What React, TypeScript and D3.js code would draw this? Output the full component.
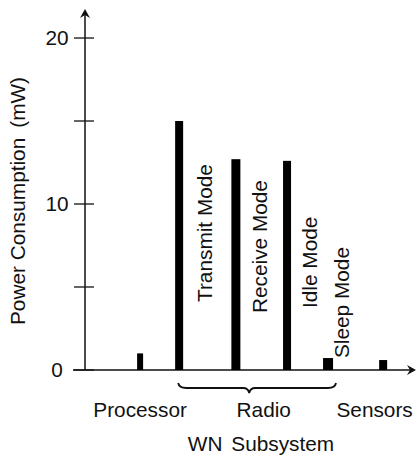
import React from "react";
import * as d3 from "d3";

const categories = ["Processor", "Transmit Mode", "Receive Mode", "Idle Mode", "Sleep Mode", "Sensors"];
const values = [1.0, 15.0, 12.7, 12.6, 0.72, 0.6];
// bar positions along the x axis, in arbitrary axis units (0..100)
const positions = [16.8, 28.7, 46.0, 61.6, 74.1, 90.9];
const modeLabels = ["Transmit Mode", "Receive Mode", "Idle Mode", "Sleep Mode"];
const groupLabels = ["Processor", "Radio", "Sensors"];
const groupPositions = [16.8, 54.5, 88.3];
const yTicks = [0, 5, 10, 15, 20];
const yTickLabels = ["0", "", "10", "", "20"];

export default function App() {
  const W = 419, H = 456;
  const x0 = 85, y0 = 370;
  const x = d3.scaleLinear().domain([0, 100]).range([x0, 413]);
  const y = d3.scaleLinear().domain([0, 20]).range([y0, 38]);
  const font = "'Liberation Sans', Arial, Helvetica, sans-serif";
  const fs = 20.8;
  const ink = "#111";
  const barW = [6, 8, 9, 8, 10, 8];
  // label baseline offsets (right of bar) and bottom positions for rotated labels
  const labelDx = [33, 31, 30, 21];
  const labelBottom = [302, 313, 308, 358];

  const left = x(positions[1]) - barW[1] / 2 + 3;
  const right = x(positions[4]) + barW[4] / 2 + 3;
  const tip = left + 0.45 * (right - left);
  const by = 388;
  const brace = `M${left},${by - 5} Q${left + 1},${by} ${left + 8},${by} L${tip - 6},${by} Q${tip - 1},${by} ${tip},${by + 5} Q${tip + 1},${by} ${tip + 6},${by} L${right - 8},${by} Q${right - 1},${by} ${right},${by - 5}`;

  return (
    <svg width={W} height={H} style={{ position: "absolute", left: 0, top: 0, background: "#fff" }} fontFamily={font}>
      {/* axes */}
      <line x1={x0} x2={x0} y1={y0} y2={13} stroke={ink} strokeWidth={1.5} />
      <path d={`M${x0},9 L${x0 - 5},18 L${x0},15 L${x0 + 5},18 Z`} fill={ink} />
      <line x1={73} x2={411} y1={y0} y2={y0} stroke={ink} strokeWidth={1.5} />
      <path d={`M416,${y0} L407,${y0 - 5} L410,${y0} L407,${y0 + 5} Z`} fill={ink} />
      {yTicks.map((t, i) => (
        <g key={t}>
          <line x1={74} x2={94} y1={y(t)} y2={y(t)} stroke={ink} strokeWidth={1.3} />
          {yTickLabels[i] && (
            <text x={57} y={y(t)} dy="0.36em" textAnchor="middle" fontSize={fs} fill={ink}>
              {yTickLabels[i]}
            </text>
          )}
        </g>
      ))}
      <text
        transform={`translate(25,201) rotate(-90)`}
        textAnchor="middle"
        fontSize={fs}
        fill={ink}
      >
        <tspan>Power Consumption</tspan>
        <tspan dx={10}>(mW)</tspan>
      </text>

      {/* bars */}
      {categories.map((c, i) => (
        <rect
          key={c}
          x={x(positions[i]) - barW[i] / 2}
          y={y(values[i])}
          width={barW[i]}
          height={y0 - y(values[i])}
          fill="#000"
        />
      ))}

      {/* mode labels */}
      {modeLabels.map((m, i) => (
        <text
          key={m}
          transform={`translate(${x(positions[i + 1]) + labelDx[i]},${labelBottom[i]}) rotate(-90)`}
          textAnchor="start"
          fontSize={fs}
          fill={ink}
        >
          {m}
        </text>
      ))}

      {/* brace */}
      <path d={brace} fill="none" stroke={ink} strokeWidth={1.8} />

      {/* group labels */}
      {groupLabels.map((g, i) => (
        <text key={g} x={x(groupPositions[i])} y={417} textAnchor="middle" fontSize={fs} fill={ink}>
          {g}
        </text>
      ))}
      <text x={261} y={451} textAnchor="middle" fontSize={fs} fill={ink} wordSpacing={3}>
        WN Subsystem
      </text>
    </svg>
  );
}
